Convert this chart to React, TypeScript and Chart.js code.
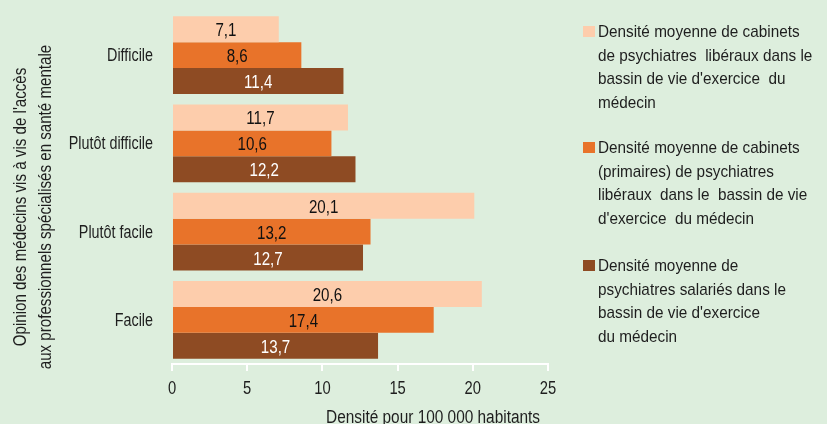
import React, { useEffect, useRef } from "react";
import { Chart, registerables } from "chart.js";

Chart.register(...registerables);

const categories = ["Difficile", "Plutôt difficile", "Plutôt facile", "Facile"];
const liberaux = [7.1, 11.7, 20.1, 20.6];
const primaires = [8.6, 10.6, 13.2, 17.4];
const salaries = [11.4, 12.2, 12.7, 13.7];
const xTicks = [0, 5, 10, 15, 20, 25];

const seriesLabels = [
  ["Densité moyenne de cabinets", "de psychiatres  libéraux dans le", "bassin de vie d'exercice  du", "médecin"],
  ["Densité moyenne de cabinets", "(primaires) de psychiatres", "libéraux  dans le  bassin de vie", "d'exercice  du médecin"],
  ["Densité moyenne de", "psychiatres salariés dans le", "bassin de vie d'exercice", "du médecin"],
];
const colors = ["#fdcdac", "#e8732a", "#8e4b23"];
const labelColors = ["#111111", "#111111", "#ffffff"];
const yTitle = ["Opinion des médecins vis à vis de l'accès", "aux professionnels spécialisés en santé mentale"];
const xTitle = "Densité pour 100 000 habitants";

const FONT = "'Liberation Sans', Arial, sans-serif";
const BG = "#ddeedd";
const TEXT = "#1e1e1e";

function txt(ctx: CanvasRenderingContext2D, s: string, x: number, y: number, size: number, sx: number, align: CanvasTextAlign, color: string, rot = 0) {
  ctx.save();
  ctx.font = `${size}px ${FONT}`;
  ctx.fillStyle = color;
  ctx.textAlign = align;
  ctx.textBaseline = rot ? "middle" : "alphabetic";
  ctx.translate(x, y);
  if (rot) ctx.rotate(rot);
  ctx.scale(sx, 1);
  ctx.fillText(s, 0, 0);
  ctx.restore();
}

export default function App() {
  const ref = useRef<HTMLCanvasElement>(null);
  useEffect(() => {
    const extras = {
      id: "extras",
      afterDatasetsDraw(chart: any) {
        const ctx = chart.ctx;
        chart.data.datasets.forEach((ds: any, i: number) => {
          const meta = chart.getDatasetMeta(i);
          meta.data.forEach((bar: any, j: number) => {
            const v = ds.data[j];
            const x = (bar.x + bar.base) / 2;
            txt(ctx, String(v).replace(".", ","), x, bar.y + 7, 18, 0.84, "center", labelColors[i]);
          });
        });
      },
      afterDraw(chart: any) {
        const ctx = chart.ctx;
        const xs = chart.scales.x;
        const ys = chart.scales.y;
        // x tick labels
        xTicks.forEach((v) => {
          txt(ctx, String(v), xs.getPixelForValue(v), 394, 18, 0.82, "center", TEXT);
        });
        // x title
        txt(ctx, xTitle, 540, 423, 18, 0.855, "right", TEXT);
        // y category labels
        categories.forEach((c, i) => {
          txt(ctx, c, 153, ys.getPixelForValue(i) + 6, 17.5, 0.82, "right", TEXT);
        });
        // y title
        const cx = [21.5, 46.5];
        yTitle.forEach((t, k) => {
          txt(ctx, t, cx[k], 207, 18, 0.84, "center", TEXT, -Math.PI / 2);
        });
        // legend
        const baselines = [37, 153, 271];
        seriesLabels.forEach((lines, i) => {
          ctx.fillStyle = colors[i];
          ctx.fillRect(583, baselines[i] - 11, 12, 11);
          lines.forEach((l, k) => {
            txt(ctx, l, 598, baselines[i] + k * 23.5, 17, 0.9, "left", TEXT);
          });
        });
      },
    };

    const chart = new Chart(ref.current as HTMLCanvasElement, {
      type: "bar",
      data: {
        labels: categories,
        datasets: [liberaux, primaires, salaries].map((d, i) => ({
          label: seriesLabels[i].join(" "),
          data: d,
          backgroundColor: colors[i],
          borderWidth: 0,
          barPercentage: 1,
          categoryPercentage: 0.883,
        })),
      },
      options: {
        indexAxis: "y",
        animation: false,
        responsive: false,
        layout: { padding: { top: 11, right: 279, left: 0, bottom: 0 } },
        plugins: { legend: { display: false }, tooltip: { enabled: false } },
        scales: {
          x: {
            min: 0,
            max: 25,
            ticks: { stepSize: 5, color: "rgba(0,0,0,0)", font: { size: 12 }, padding: 5 },
            grid: { drawOnChartArea: false, drawTicks: true, color: "#ffffff", lineWidth: 2, tickLength: 7 },
            border: { display: true, color: "#ffffff", width: 2 },
            afterFit(scale: any) {
              scale.height = 60;
            },
          },
          y: {
            ticks: { display: false },
            grid: { display: false },
            border: { display: false },
            afterFit(scale: any) {
              scale.width = 172;
            },
          },
        },
      },
      plugins: [extras],
    } as any);
    return () => chart.destroy();
  }, []);
  return (
    <div style={{ position: "fixed", left: 0, top: 0, width: 827, height: 424, background: BG }}>
      <canvas ref={ref} width={827} height={424} style={{ display: "block" }} />
    </div>
  );
}
